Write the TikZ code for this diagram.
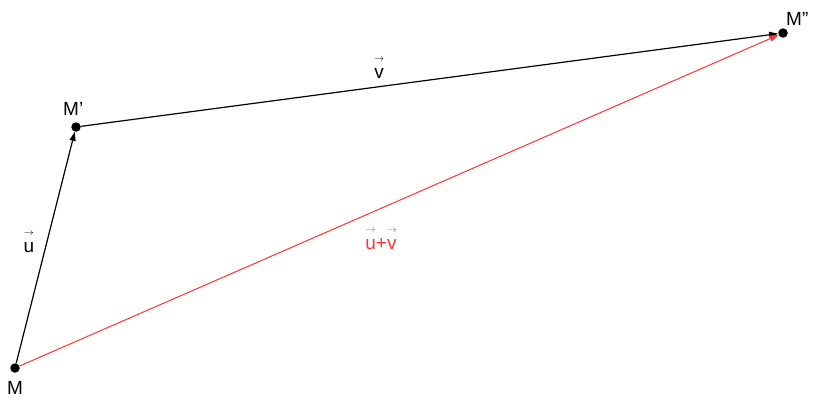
\documentclass[tikz,border=0pt]{standalone}
\usepackage{fontspec}
\setmainfont{Liberation Sans}
\usetikzlibrary{arrows.meta}
\definecolor{vred}{RGB}{255,51,51}
\newcommand\vecl[1]{\ooalign{#1\cr\hidewidth\raisebox{16.5pt}{\fontsize{10}{10}\selectfont$\rightarrow$}\hidewidth\cr}}
\tikzset{
  pt/.style={circle,fill=black,inner sep=0pt,minimum size=9.5pt},
  lbl/.style={font=\fontsize{19}{19}\selectfont,inner sep=0pt},
  vecarrow/.style={line width=1.2pt,-{Triangle[length=9pt,width=6pt]}},
  sumarrow/.style={line width=1pt,vred,-{Triangle[length=9pt,width=6pt]}}
}
\begin{document}
\begin{tikzpicture}[x=1pt,y=-1pt]
\useasboundingbox (0,0) rectangle (816,397);
\node[pt] (M) at (15,368) {};
\node[pt] (Mp) at (76,127) {};
\node[pt] (Mpp) at (783,33) {};
\draw[vecarrow] (M) -- (Mp);
\draw[vecarrow] (Mp) -- (Mpp);
\draw[sumarrow] (M) -- (Mpp);
\node[lbl,anchor=base] (lM) at (15,394) {M};
\node[lbl,anchor=base west] (lMp) at (63,115) {M\symbol{"27}};
\node[lbl,anchor=base west] (lMpp) at (786,25) {M\symbol{"22}};
\node[lbl,anchor=base] (lu) at (29,252) {\vecl{u}};
\node[lbl,anchor=base] (lv) at (379,78) {\vecl{v}};
\node[lbl,anchor=base,text=vred] (luv) at (381,249) {\vecl{u}+\vecl{v}};
\end{tikzpicture}
\end{document}
